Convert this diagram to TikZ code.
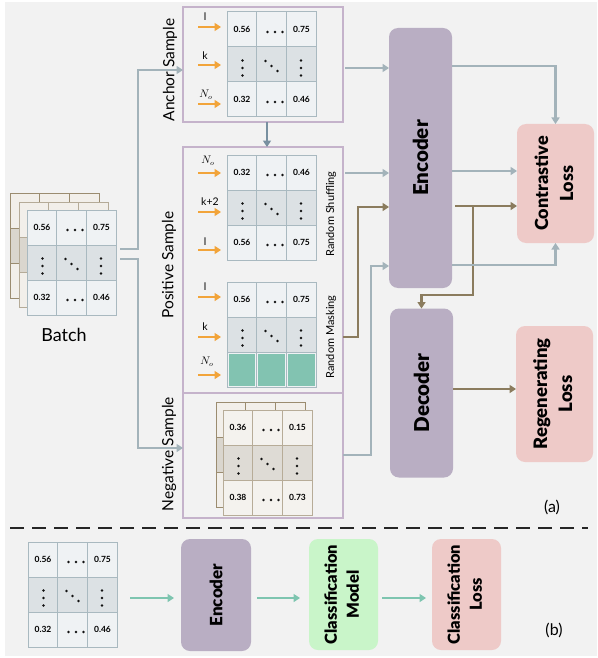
\documentclass[tikz,border=0pt]{standalone}
\usepackage{fontspec}
\setmainfont{Lato}
\newfontfamily\heavyfont{Lato Black}
\usetikzlibrary{arrows.meta}

\definecolor{bgc}{HTML}{F2F2F2}
\definecolor{lilac}{HTML}{C5B3CB}
\definecolor{gridc}{HTML}{A9B9C0}
\definecolor{cellf}{HTML}{EFF2F4}
\definecolor{cellm}{HTML}{DCE1E4}
\definecolor{brA}{HTML}{9B8C70}
\definecolor{brB}{HTML}{B5AB98}
\definecolor{brfill}{HTML}{F2EFEA}
\definecolor{brmid}{HTML}{DAD6CE}
\definecolor{negline}{HTML}{B7AC98}
\definecolor{negfill}{HTML}{F4F2EE}
\definecolor{negmid}{HTML}{DEDBD5}
\definecolor{encc}{HTML}{B9AEC3}
\definecolor{lossc}{HTML}{EECAC8}
\definecolor{modelc}{HTML}{C9F5C9}
\definecolor{grayc}{HTML}{A3B3BA}
\definecolor{darkgrayc}{HTML}{7890A0}
\definecolor{brownc}{HTML}{8B7C5E}
\definecolor{tealc}{HTML}{7EC5B0}
\definecolor{maskc}{HTML}{82C3B1}
\definecolor{orangec}{HTML}{F2A43A}
\definecolor{dotc}{HTML}{111111}

% table outline with shaded middle row and inner grid lines
\newcommand\tabframe[6]{%
  \node[tabnode, draw=#4, fill=#5] (#1) at (#2,#3) {};
  \fill[#6] (#2+0.5,#3+35) rectangle (#2+88.5,#3+70);
  \draw[#4, line width=1pt] (#2+29.7,#3) -- (#2+29.7,#3+105)
        (#2+59.3,#3) -- (#2+59.3,#3+105)
        (#2,#3+35) -- (#2+89,#3+35) (#2,#3+70) -- (#2+89,#3+70);
}
% a row with two values and a horizontal ellipsis
\newcommand\valrow[5]{%
  \node[num] (#1l) at (#2+15,#3+17.5) {#4};
  \node[num] (#1r) at (#2+74.5,#3+17.5) {#5};
  \foreach \dx in {-4,3.5,11}{\fill[dotc] (#2+44.5+\dx,#3+20) circle (1.3pt);}
}
% the row of vertical and diagonal dots
\newcommand\dotsrow[2]{%
  \foreach \dy in {-4,3.5,11}{\fill[dotc] (#1+15.5,#2+17.5+\dy) circle (1.3pt) (#1+74,#2+17.5+\dy) circle (1.3pt);}
  \fill[dotc] (#1+38.5,#2+14) circle (1.3pt) (#1+44.5,#2+19) circle (1.3pt) (#1+50.5,#2+24) circle (1.3pt);
}

\begin{document}
\begin{tikzpicture}[x=1pt,y=-1pt,
  tabnode/.style={minimum width=89pt, minimum height=105pt, inner sep=0pt, outer sep=0pt, anchor=north west, line width=1pt},
  num/.style={font=\bfseries\fontsize{8.5}{9}\selectfont, inner sep=0pt},
  sampbox/.style={draw=lilac, line width=1.2pt, minimum width=160pt, inner sep=0pt, outer sep=0pt, anchor=north west},
  blockbox/.style={rounded corners=9pt, inner sep=0pt, outer sep=0pt, font=\heavyfont},
  samplab/.style={rotate=90, font=\fontsize{15.5}{18}\selectfont, inner sep=0pt},
  oplab/.style={rotate=90, font=\fontsize{11}{13}\selectfont, inner sep=0pt},
  rowlab/.style={font=\fontsize{10.5}{12}\selectfont, inner sep=0pt},
  tip/.style={-{Triangle[length=6.5pt,width=8pt]}},
  garrow/.style={tip, draw=grayc, line width=2.4pt},
  barrow/.style={tip, draw=brownc, line width=2.4pt},
  tarrow/.style={tip, draw=tealc, line width=2.4pt},
  oarrow/.style={tip, draw=orangec, line width=2.6pt},
]
\useasboundingbox (0,0) rectangle (597,658);
\fill[bgc] (5,2) rectangle (597,656);

% ---------- batch ----------
\tabframe{bb2}{10}{193}{brA}{brfill}{brmid}
\tabframe{bb1}{19}{202}{brB}{brfill}{brmid}
\tabframe{tB}{27}{210}{gridc}{cellf}{cellm}
\valrow{tBa}{27}{210}{0.56}{0.75}
\dotsrow{27}{245}
\valrow{tBc}{27}{280}{0.32}{0.46}
\node[font=\fontsize{18}{20}\selectfont, inner sep=0pt] (batchlab) at (64,335) {Batch};

% ---------- sample frames ----------
\node[sampbox, minimum height=115pt] (anchorbox) at (183,7) {};
\node[sampbox, minimum height=246pt] (posbox) at (183,147) {};
\node[sampbox, minimum height=125pt] (negbox) at (183,393) {};

\node[samplab] (anchorlab) at (170,70) {Anchor Sample};
\node[samplab] (poslab) at (169,265) {Positive Sample};
\node[samplab] (neglab) at (169,454) {Negative Sample};
\node[oplab] (shuflab) at (331,214) {Random Shuffling};
\node[oplab] (masklab) at (331,337) {Random Masking};

% anchor table
\tabframe{tA}{227}{12}{gridc}{cellf}{cellm}
\valrow{tAa}{227}{12}{0.56}{0.75}
\dotsrow{227}{47}
\valrow{tAc}{227}{82}{0.32}{0.46}

% shuffled table
\tabframe{tS}{227}{155}{gridc}{cellf}{cellm}
\valrow{tSa}{227}{155}{0.32}{0.46}
\dotsrow{227}{190}
\valrow{tSc}{227}{225}{0.56}{0.75}

% masked table
\tabframe{tM}{227}{282}{gridc}{cellf}{cellm}
\valrow{tMa}{227}{282}{0.56}{0.75}
\dotsrow{227}{317}
\foreach \c in {0,1,2}{\fill[maskc] (227+\c*29.7+1.5,352+1.5) rectangle ++(26.7,32);}

% negative table
\tabframe{tNb}{216}{402}{brA}{brfill}{brmid}
\tabframe{tN}{223}{410}{negline}{negfill}{negmid}
\valrow{tNa}{223}{410}{0.36}{0.15}
\dotsrow{223}{445}
\valrow{tNc}{223}{480}{0.38}{0.73}

% row pointers
\node[rowlab] (ra1) at (205,17) {l};
\node[rowlab] (ra2) at (205,56) {k};
\node[rowlab] (ra3) at (206,95) {$N_o$};
\node[rowlab] (rs1) at (208,161) {$N_o$};
\node[rowlab] (rs2) at (210,202) {k+2};
\node[rowlab] (rs3) at (205,242) {l};
\node[rowlab] (rm1) at (205,287) {l};
\node[rowlab] (rm2) at (205,327) {k};
\node[rowlab] (rm3) at (207,362) {$N_o$};
\foreach \yy in {27,65,104}{\draw[oarrow] ([xshift=-29pt]tA.west |- 0,\yy) -- ++(23,0);}
\foreach \yy in {173,212,250}{\draw[oarrow] ([xshift=-29pt]tS.west |- 0,\yy) -- ++(23,0);}
\foreach \yy in {297,337,375}{\draw[oarrow] ([xshift=-29pt]tM.west |- 0,\yy) -- ++(23,0);}

% ---------- model blocks ----------
\node[blockbox, fill=encc, minimum width=63pt, minimum height=260pt] (enc) at (420.5,158)
  {\rotatebox{90}{\fontsize{20.5}{22}\selectfont Encoder}};
\node[blockbox, fill=encc, minimum width=63pt, minimum height=169pt] (dec) at (421.5,393)
  {\rotatebox{90}{\fontsize{20.5}{22}\selectfont Decoder}};
\node[blockbox, fill=lossc, minimum width=77pt, minimum height=119pt] (closs) at (555.5,183.5)
  {\rotatebox{90}{\fontsize{18}{25}\selectfont\begin{tabular}{@{}c@{}}Contrastive\\Loss\end{tabular}}};
\node[blockbox, fill=lossc, minimum width=77pt, minimum height=136pt] (rloss) at (554.5,394)
  {\rotatebox{90}{\fontsize{18.5}{25}\selectfont\begin{tabular}{@{}c@{}}Regenerating\\Loss\end{tabular}}};
\node[font=\fontsize{16}{18}\selectfont, inner sep=0pt] (alab) at (552,507) {(a)};

% ---------- connectors ----------
\draw[garrow, shorten <=4pt] (tB.east |- 0,249) -- ++(22,0) |- (anchorbox.west |- 0,70);
\draw[garrow, shorten <=4pt] (tB.east |- 0,259) -- ++(22,0) |- (negbox.west |- 0,448);
\draw[tip, draw=darkgrayc, line width=2.4pt] ([xshift=4pt]anchorbox.south) -- ([xshift=4pt]posbox.north);
\draw[garrow, shorten <=2pt] (anchorbox.east |- 0,68) -- (enc.west |- 0,68);
\draw[garrow, shorten <=2pt] (posbox.east |- 0,173) -- (enc.west |- 0,173);
\draw[barrow] (posbox.east |- 0,337) -- ++(15,0) |- (enc.west |- 0,207);
\draw[garrow] (negbox.east |- 0,455) -- ++(28,0) |- (enc.west |- 0,266);
\draw[garrow] (enc.east |- 0,66) -| (closs.north);
\draw[garrow] (enc.east |- 0,171) -- (closs.west |- 0,171);
\draw[barrow, shorten <=3pt] (enc.east |- 0,206) -- (closs.west |- 0,206);
\coordinate (split) at (473,206);
\draw[barrow] (split) -- (473,295) -| (dec.north);
\draw[garrow] (enc.east |- 0,265) -| (closs.south);
\draw[barrow] (dec.east |- 0,389) -- (rloss.west |- 0,389);

% ---------- separator ----------
\draw[dash pattern=on 14pt off 8pt, line width=1.4pt, draw=black!85] (10,528) -- (588,528);

% ---------- downstream part ----------
\tabframe{tQ}{28}{542}{gridc}{cellf}{cellm}
\valrow{tQa}{28}{542}{0.56}{0.75}
\dotsrow{28}{577}
\valrow{tQc}{28}{612}{0.32}{0.46}

\node[blockbox, fill=encc, minimum width=70pt, minimum height=112pt] (benc) at (216,595)
  {\rotatebox{90}{\fontsize{17}{19}\selectfont Encoder}};
\node[blockbox, fill=modelc, minimum width=69pt, minimum height=111pt] (bmodel) at (343.5,594.5)
  {\rotatebox{90}{\fontsize{16.5}{22}\selectfont\begin{tabular}{@{}c@{}}Classification\\Model\end{tabular}}};
\node[blockbox, fill=lossc, minimum width=69pt, minimum height=111pt] (bloss) at (466.5,594.5)
  {\rotatebox{90}{\fontsize{16.5}{22}\selectfont\begin{tabular}{@{}c@{}}Classification\\Loss\end{tabular}}};
\node[font=\fontsize{16}{18}\selectfont, inner sep=0pt] (blab) at (554,630) {(b)};

\draw[tarrow, shorten <=13pt, shorten >=7pt] (tQ.east |- 0,598) -- (benc.west |- 0,598);
\draw[tarrow, shorten <=6pt, shorten >=9pt] (benc.east |- 0,598) -- (bmodel.west |- 0,598);
\draw[tarrow, shorten <=4pt, shorten >=6pt] (bmodel.east |- 0,598) -- (bloss.west |- 0,598);
\end{tikzpicture}
\end{document}
